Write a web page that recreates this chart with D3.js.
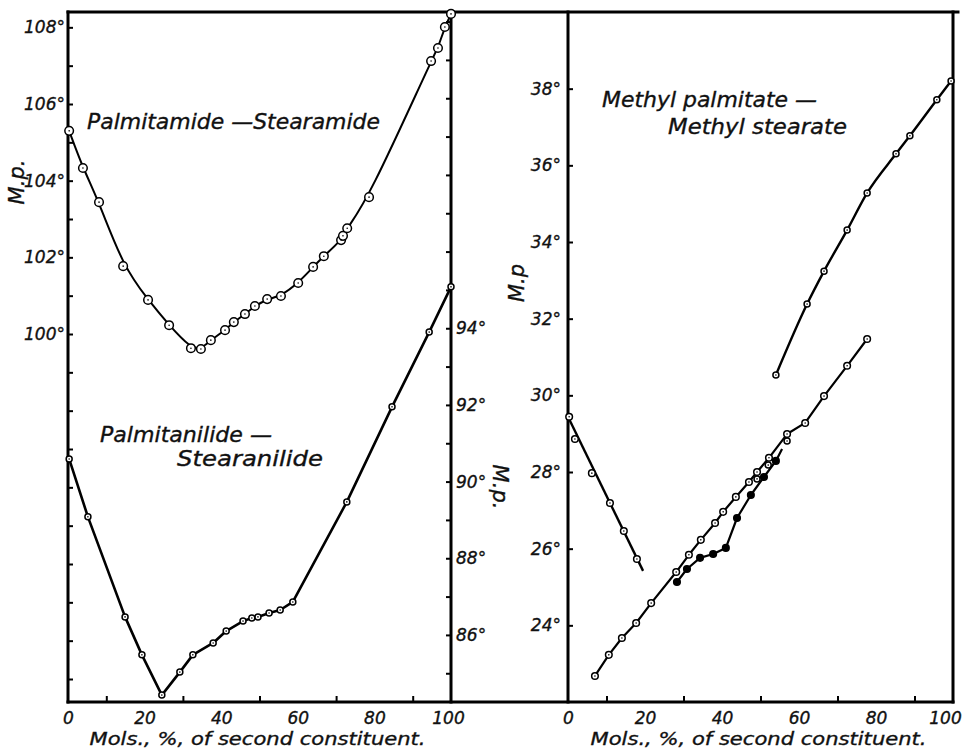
<!DOCTYPE html>
<html lang="en">
<head>
  <meta charset="UTF-8">
  <title>Melting points of binary mixtures</title>
  <style>
    html, body {
      background-color: #ffffff;
      margin: 0;
    }
    svg text {
      font-family: 'DejaVu Sans', sans-serif;
      font-style: italic;
      fill: #111;
      stroke: #111;
      stroke-width: 0.35px;
    }
  </style>
</head>
<body>
  <svg class="chart" width="962" height="749"></svg>

  <script src="https://cdnjs.cloudflare.com/ajax/libs/d3/7.8.5/d3.min.js"></script>
  <script>
    // values: [mol % of second constituent, m.p.]
    const amide = [
      [0.3, 105.3], [3.9, 104.33], [8.1, 103.44], [14.4, 101.77], [20.9, 100.89],
      [26.4, 100.23], [32.1, 99.63], [34.7, 99.61], [37.3, 99.84], [41, 100.1],
      [43.3, 100.31], [46.2, 100.52], [48.8, 100.73], [52, 100.91], [55.6, 100.99],
      [60.1, 101.33], [64, 101.75], [66.8, 102.03], [71.3, 102.45], [71.8, 102.56],
      [72.9, 102.76], [78.6, 103.57], [94.8, 107.12], [96.6, 107.46], [98.4, 108.01],
      [100, 108.35]
    ];
    const anilide = [
      [0.3, 90.59], [5.2, 89.08], [14.9, 86.47], [19.3, 85.48], [24.5, 84.43],
      [29.2, 85.03], [32.6, 85.48], [37.9, 85.79], [41.3, 86.1], [45.7, 86.36],
      [48, 86.44], [49.6, 86.47], [52.5, 86.57], [55.4, 86.65], [58.7, 86.86],
      [72.8, 89.47], [84.6, 91.95], [94.3, 93.9], [100, 95.08]
    ];
    const methylUpper = [
      [54, 30.53], [62.1, 32.38], [66.5, 33.24], [72.5, 34.31], [77.7, 35.28],
      [85.2, 36.3], [88.8, 36.77], [95.8, 37.71], [99.5, 38.2]
    ];
    const methylLeft = [
      [0.3, 29.44], [1.8, 28.86], [6.2, 27.97], [10.9, 27.19], [14.5, 26.46], [17.9, 25.73]
    ];
    const methylLeftLine = [[0, 29.44], [19.5, 25.42]];
    const methylOpen = [
      [7, 22.68], [10.6, 23.23], [14, 23.67], [17.7, 24.06], [21.6, 24.58],
      [28.1, 25.39], [31.4, 25.84], [34.5, 26.23], [38.2, 26.67], [40.3, 26.96],
      [43.6, 27.35], [47, 27.74], [49.1, 28.0], [52.2, 28.37], [56.9, 28.99],
      [61.6, 29.28], [66.5, 29.98], [72.5, 30.77], [77.7, 31.47]
    ];
    const methylFilled = [
      [28.3, 25.13], [30.9, 25.47], [34.3, 25.76], [37.7, 25.86], [41, 26.02],
      [43.9, 26.8], [47.5, 27.4], [50.9, 27.87], [54, 28.29], [55.6, 28.6]
    ];
    const methylExtra = [[49.1, 27.82], [52, 28.18], [56.9, 28.81]];

    const xTickLabels = [0, 20, 40, 60, 80, 100];
    const amideTicks = [100, 102, 104, 106, 108];
    const anilideTicks = [86, 88, 90, 92, 94];
    const methylTicks = [24, 26, 28, 30, 32, 34, 36, 38];
    const axisTitle = 'Mols., %, of second constituent.';

    const plotTop = 12;
    const plotBottom = 702;
    const svg = d3.select('.chart');

    const xLeft = d3.scaleLinear().domain([0, 100]).range([68, 451]);
    const xRight = d3.scaleLinear().domain([0, 100]).range([568, 953]);
    const yAmide = d3.scaleLinear().domain([90.4, 108.4]).range([plotBottom, plotTop]);
    const yAnilide = d3.scaleLinear().domain([84.25, 102.25]).range([plotBottom, plotTop]);
    const yMethyl = d3.scaleLinear().domain([22, 40]).range([plotBottom, plotTop]);

    /**
     * Frame and axes
     */
    const axisLine = (x1, y1, x2, y2) => svg.append('line')
      .attr('x1', x1).attr('y1', y1).attr('x2', x2).attr('y2', y2)
      .attr('stroke', '#000').attr('stroke-width', 3).attr('stroke-linecap', 'square');

    axisLine(68, plotTop, 958, plotTop);
    axisLine(68, plotBottom, 953, plotBottom);
    axisLine(68, plotTop, 68, plotBottom);
    axisLine(451, plotTop, 451, plotBottom);
    axisLine(568, plotTop, 568, plotBottom);
    axisLine(953, plotTop, 953, plotBottom);

    function styleAxis(g) {
      g.select('.domain').remove();
      g.selectAll('.tick line').attr('stroke', '#000').attr('stroke-width', 2);
      g.selectAll('.tick text')
        .attr('font-size', 17)
        .attr('font-family', "'DejaVu Sans', sans-serif")
        .attr('font-style', 'italic')
        .attr('fill', '#111');
    }

    // bottom axes, short ticks pointing up at the odd tens
    [xLeft, xRight].forEach(x => {
      svg.append('g')
        .attr('transform', `translate(0,${plotBottom})`)
        .call(d3.axisBottom(x).tickValues([10, 30, 50, 70, 90]).tickSize(-6).tickFormat(''))
        .call(styleAxis);
      svg.append('g')
        .attr('transform', `translate(0,${plotBottom})`)
        .call(d3.axisBottom(x).tickValues(xTickLabels).tickSize(0).tickPadding(10).tickFormat(d3.format('d')))
        .call(styleAxis)
        .selectAll('.tick')
        .filter(d => d === 100)
        .select('text')
        .attr('dx', x === xRight ? -8 : -3);
      svg.append('text')
        .attr('x', (x(0) + x(100)) / 2 - 2)
        .attr('y', 745)
        .attr('text-anchor', 'middle')
        .attr('font-size', 18)
        .attr('textLength', 336)
        .attr('lengthAdjust', 'spacingAndGlyphs')
        .text(axisTitle);
    });

    const deg = d => `${d}°`;

    svg.append('g')
      .attr('transform', 'translate(68,0)')
      .call(d3.axisRight(yAmide).tickValues(d3.range(91, 109)).tickSize(5).tickFormat(''))
      .call(styleAxis);
    svg.append('g')
      .attr('transform', 'translate(67,0)')
      .call(d3.axisLeft(yAmide).tickValues(amideTicks).tickSize(0).tickPadding(2).tickFormat(deg))
      .call(styleAxis);

    svg.append('g')
      .attr('transform', 'translate(451,0)')
      .call(d3.axisLeft(yAnilide).tickValues(d3.range(85, 103)).tickSize(5).tickFormat(''))
      .call(styleAxis);
    svg.append('g')
      .attr('transform', 'translate(453,0)')
      .call(d3.axisRight(yAnilide).tickValues(anilideTicks).tickSize(0).tickPadding(3).tickFormat(deg))
      .call(styleAxis);

    svg.append('g')
      .attr('transform', 'translate(568,0)')
      .call(d3.axisRight(yMethyl).tickValues(methylTicks).tickSize(5).tickFormat(''))
      .call(styleAxis);
    svg.append('g')
      .attr('transform', 'translate(566,0)')
      .call(d3.axisLeft(yMethyl).tickValues(methylTicks).tickSize(0).tickPadding(5).tickFormat(deg))
      .call(styleAxis);

    // M.p. axis titles
    const axisName = (x, y, angle, label) => svg.append('text')
      .attr('transform', `translate(${x},${y}) rotate(${angle})`)
      .attr('text-anchor', 'middle')
      .attr('font-size', 21)
      .text(label);
    axisName(24, 182, -90, 'M.p.');
    axisName(493, 487, 90, 'M.p.');
    axisName(524, 283, -90, 'M.p');

    /**
     * Curves and points
     */
    function drawLine(data, x, y, curve, width) {
      svg.append('path')
        .datum(data)
        .attr('fill', 'none')
        .attr('stroke', '#000')
        .attr('stroke-width', width)
        .attr('stroke-linejoin', 'round')
        .attr('d', d3.line().x(d => x(d[0])).y(d => y(d[1])).curve(curve));
    }

    function drawPoints(data, x, y, r, filled) {
      const g = svg.append('g');
      g.selectAll('circle.mark')
        .data(data)
        .join('circle')
        .attr('class', 'mark')
        .attr('cx', d => x(d[0]))
        .attr('cy', d => y(d[1]))
        .attr('r', r)
        .attr('fill', filled ? '#000' : '#fff')
        .attr('stroke', '#000')
        .attr('stroke-width', 1.5);
      if (!filled) {
        g.selectAll('circle.dot')
          .data(data)
          .join('circle')
          .attr('class', 'dot')
          .attr('cx', d => x(d[0]))
          .attr('cy', d => y(d[1]))
          .attr('r', 0.8)
          .attr('fill', '#000');
      }
    }

    drawLine(amide, xLeft, yAmide, d3.curveBasis, 2);
    drawPoints(amide, xLeft, yAmide, 4.3, false);

    drawLine(anilide, xLeft, yAnilide, d3.curveLinear, 2.6);
    drawPoints(anilide, xLeft, yAnilide, 3, false);

    drawLine(methylUpper, xRight, yMethyl, d3.curveMonotoneX, 2.4);
    drawPoints(methylUpper, xRight, yMethyl, 3, false);

    drawLine(methylLeftLine, xRight, yMethyl, d3.curveLinear, 2.4);
    drawPoints(methylLeft, xRight, yMethyl, 3.3, false);

    drawLine(methylOpen, xRight, yMethyl, d3.curveLinear, 2.2);
    drawLine(methylFilled, xRight, yMethyl, d3.curveLinear, 2.2);
    drawPoints(methylOpen, xRight, yMethyl, 3.3, false);
    drawPoints(methylFilled.slice(0, -1), xRight, yMethyl, 3.3, true);
    drawPoints(methylExtra, xRight, yMethyl, 3, false);

    /**
     * Curve names
     */
    const note = (x, y, width, label) => svg.append('text')
      .attr('x', x).attr('y', y)
      .attr('font-size', 21)
      .attr('textLength', width)
      .attr('lengthAdjust', 'spacingAndGlyphs')
      .text(label);
    note(87, 129, 293, 'Palmitamide \u2014Stearamide');
    note(100, 442, 172, 'Palmitanilide \u2014');
    note(177, 466, 146, 'Stearanilide');
    note(602, 107, 215, 'Methyl palmitate \u2014');
    note(668, 134, 179, 'Methyl stearate');
  </script>
</body>
</html>
